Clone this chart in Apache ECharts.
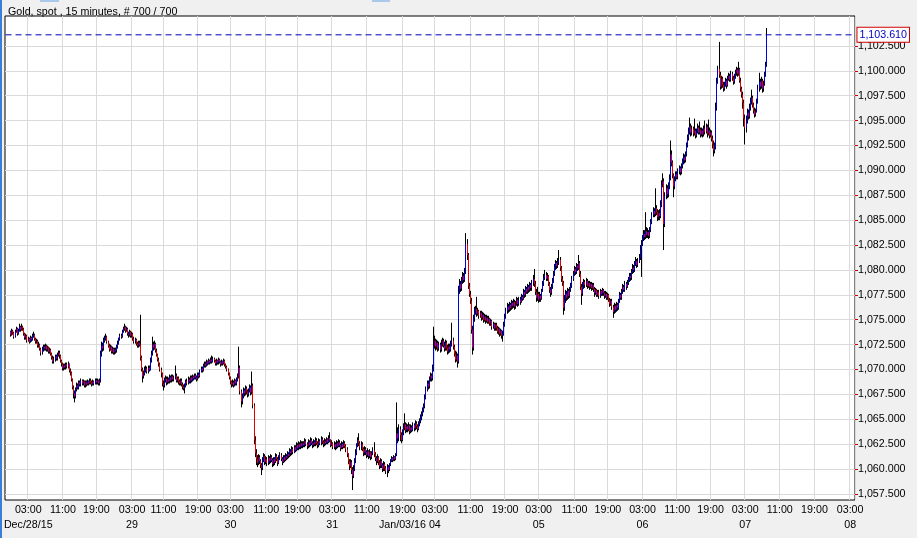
<!DOCTYPE html>
<html>
<head>
<meta charset="utf-8">
<title>Gold, spot, 15 minutes</title>
<script src="https://cdn.jsdelivr.net/npm/echarts@6/dist/echarts.min.js"></script>
<style>
html, body { margin: 0; padding: 0; background: #f0f0f0; }
#main { width: 917px; height: 538px; }
</style>
</head>
<body>
<div id="main"></div>
<script>
var chartTitle = 'Gold, spot , 15 minutes, # 700 / 700';

// 15 minute bars, open of each bar = close of the bar before
var firstOpen = 1073.8;
var closes = [
1073.5,1073.9,1073.7,1073.3,1073.8,1074.1,1073.6,1073.9,1074.3,1074.0,
1074.3,1074.1,1073.6,1073.2,1073.4,1072.9,1073.1,1072.8,1073.2,1073.0,
1073.4,1073.5,1073.1,1072.8,1072.9,1072.4,1072.5,1072.1,1071.7,1072.0,
1072.3,1072.1,1072.4,1072.0,1072.2,1071.8,1072.0,1071.6,1071.2,1070.8,
1071.0,1071.3,1071.1,1071.5,1071.7,1071.4,1070.9,1070.6,1070.1,1070.4,
1070.2,1070.5,1070.3,1070.6,1069.9,1069.7,1069.0,1068.2,1067.6,1067.3,
1068.0,1068.4,1068.2,1068.7,1068.5,1068.9,1068.6,1068.8,1068.4,1068.7,
1068.5,1068.8,1068.6,1068.9,1068.7,1068.5,1068.8,1068.6,1068.9,1068.7,
1068.9,1068.6,1068.9,1071.6,1072.4,1072.1,1072.9,1073.1,1073.3,1072.8,
1072.4,1072.0,1072.3,1071.8,1072.1,1071.7,1072.0,1071.9,1072.3,1072.6,
1073.0,1073.4,1073.3,1073.8,1074.1,1074.3,1073.9,1074.1,1073.6,1073.5,
1073.8,1073.4,1073.6,1073.1,1072.8,1073.0,1072.6,1072.4,1072.7,1072.5,
1071.2,1070.0,1069.3,1069.6,1069.9,1070.1,1069.8,1070.2,1070.0,1070.9,
1071.6,1072.5,1072.2,1072.6,1071.9,1071.5,1071.0,1070.6,1070.0,1069.6,
1068.6,1068.4,1068.9,1069.1,1068.7,1069.0,1068.8,1069.2,1068.9,1069.3,
1069.0,1069.2,1069.4,1068.9,1069.1,1068.8,1068.6,1068.9,1068.5,1068.3,
1068.1,1068.3,1068.8,1068.6,1069.0,1068.8,1069.2,1068.9,1069.3,1069.1,
1069.4,1069.2,1069.0,1069.5,1069.3,1069.8,1070.1,1069.9,1070.4,1070.6,
1070.4,1070.8,1070.6,1070.9,1070.7,1071.0,1070.8,1071.1,1070.9,1070.6,
1070.9,1070.7,1071.0,1070.8,1070.5,1070.8,1070.6,1070.9,1070.5,1070.3,
1070.0,1069.6,1069.2,1068.8,1068.5,1068.7,1068.4,1068.9,1068.6,1069.0,
1069.3,1070.2,1067.8,1066.8,1067.3,1067.9,1067.6,1068.1,1067.8,1067.5,
1067.9,1068.2,1067.7,1068.4,1066.4,1062.9,1061.6,1061.0,1060.6,1061.2,
1060.8,1060.4,1060.1,1060.9,1061.3,1060.7,1061.0,1060.6,1061.1,1060.8,
1061.2,1060.9,1060.5,1061.0,1060.7,1061.3,1061.0,1060.6,1061.1,1061.4,
1061.0,1060.7,1061.2,1060.9,1061.3,1061.1,1061.5,1061.3,1061.8,1061.6,
1062.0,1061.7,1062.2,1061.9,1062.4,1062.1,1062.5,1062.2,1062.6,1062.3,
1062.6,1062.4,1062.8,1062.5,1062.3,1062.7,1062.4,1062.9,1062.6,1062.4,
1062.7,1062.5,1062.9,1062.6,1062.4,1062.8,1062.6,1063.0,1062.7,1062.5,
1062.8,1062.6,1063.0,1062.7,1063.1,1062.9,1062.4,1062.6,1062.2,1062.5,
1062.2,1062.6,1062.3,1062.7,1062.4,1062.1,1062.5,1062.2,1062.6,1062.3,
1062.0,1061.5,1060.8,1060.3,1060.7,1059.9,1059.3,1060.0,1060.8,1061.6,
1062.4,1062.9,1062.6,1062.2,1062.5,1062.0,1061.6,1062.0,1061.7,1061.4,
1061.8,1061.3,1061.7,1061.2,1061.6,1061.9,1061.5,1061.1,1060.8,1061.2,
1060.7,1060.3,1060.8,1060.4,1060.0,1060.5,1060.1,1059.8,1060.2,1059.9,
1060.4,1060.8,1061.1,1060.9,1061.2,1061.0,1061.4,1063.6,1063.1,1064.0,
1063.4,1062.9,1063.6,1064.2,1064.5,1063.9,1064.3,1064.0,1064.4,1063.8,
1064.2,1063.9,1064.4,1064.1,1064.6,1064.3,1064.0,1064.5,1064.8,1065.2,
1065.5,1065.9,1066.3,1067.2,1068.0,1068.6,1068.3,1069.0,1069.4,1069.1,
1070.1,1072.4,1072.9,1072.3,1072.7,1072.1,1072.5,1072.0,1072.6,1072.9,
1072.4,1072.1,1072.7,1072.2,1071.8,1072.3,1072.0,1072.6,1072.9,1072.3,
1071.6,1071.0,1071.4,1070.8,1077.9,1078.6,1078.1,1078.9,1079.4,1079.0,
1079.8,1082.6,1081.5,1078.4,1077.6,1076.9,1074.0,1072.2,1075.1,1075.8,
1076.1,1075.6,1075.9,1075.4,1075.7,1075.2,1075.5,1075.0,1075.3,1074.9,
1075.2,1074.8,1075.1,1074.6,1074.9,1074.3,1074.6,1074.1,1074.5,1074.2,
1073.8,1074.1,1073.6,1073.9,1073.4,1073.6,1074.5,1075.3,1075.9,1076.3,
1076.0,1076.5,1076.2,1076.7,1076.4,1076.8,1076.3,1076.6,1077.0,1076.6,
1077.0,1076.8,1077.3,1077.1,1077.8,1077.5,1078.1,1077.8,1078.3,1078.0,
1078.5,1078.2,1078.7,1079.1,1078.6,1077.8,1077.2,1077.6,1077.0,1077.4,
1077.1,1077.9,1078.6,1079.2,1079.5,1079.1,1079.4,1078.6,1078.0,1077.7,
1078.3,1078.9,1079.6,1080.3,1080.7,1080.4,1080.8,1081.0,1080.2,1079.1,
1078.7,1076.2,1077.0,1077.6,1077.2,1077.9,1077.4,1078.0,1078.4,1079.1,
1079.6,1080.1,1079.8,1080.4,1080.2,1080.7,1079.6,1078.3,1077.6,1078.4,
1078.8,1078.5,1078.9,1078.4,1078.7,1078.3,1078.6,1078.2,1078.5,1078.1,
1077.7,1078.0,1077.5,1077.8,1077.4,1077.9,1077.6,1078.0,1077.7,1077.4,
1077.6,1077.2,1077.5,1077.0,1076.6,1076.9,1076.3,1075.8,1076.4,1076.0,
1076.5,1076.2,1076.9,1077.5,1077.2,1077.8,1078.3,1078.0,1078.6,1078.3,
1078.7,1079.0,1079.4,1079.2,1079.8,1080.2,1080.0,1080.6,1080.9,1080.5,
1080.9,1081.2,1082.1,1082.6,1083.2,1083.6,1083.3,1083.9,1083.5,1083.8,
1083.4,1084.0,1084.8,1085.5,1085.9,1085.6,1086.2,1085.8,1085.3,1085.7,
1085.4,1086.5,1088.6,1088.9,1084.6,1087.4,1088.2,1087.6,1088.4,1089.2,
1091.6,1090.8,1089.5,1088.4,1089.1,1089.6,1089.3,1089.9,1090.2,1089.8,
1090.4,1090.9,1091.3,1091.0,1091.6,1092.5,1093.3,1093.9,1094.4,1093.8,
1094.2,1093.7,1094.0,1093.5,1093.9,1094.3,1093.8,1094.1,1093.6,1094.0,
1093.6,1094.2,1093.9,1094.4,1093.7,1094.0,1093.5,1093.8,1093.2,1092.6,
1092.0,1092.4,1096.3,1098.9,1100.2,1099.6,1098.4,1099.2,1098.6,1098.2,
1098.6,1099.0,1098.5,1099.2,1099.5,1099.1,1099.7,1099.3,1098.9,1099.4,
1099.8,1100.1,1099.7,1100.2,1099.0,1098.2,1097.6,1096.8,1095.2,1094.3,
1095.0,1095.8,1095.4,1096.3,1096.9,1097.3,1096.6,1096.0,1095.6,1095.9,
1096.8,1098.2,1098.9,1098.4,1099.0,1098.2,1098.7,1099.6,1100.6,1103.61
];
var highs = [
1073.9,1074.1,1074.0,1073.8,1074.0,1074.3,1074.2,1074.1,1074.6,1074.4,
1074.6,1074.4,1074.2,1073.7,1073.6,1073.5,1073.3,1073.2,1073.4,1073.3,
1073.6,1073.8,1073.6,1073.2,1073.1,1073.0,1072.8,1072.6,1072.2,1072.3,
1072.5,1072.5,1072.6,1072.5,1072.4,1072.3,1072.2,1072.1,1071.7,1071.4,
1071.3,1071.5,1071.5,1071.7,1071.9,1071.9,1071.5,1071.0,1070.7,1070.6,
1070.6,1070.7,1070.7,1070.8,1070.6,1070.1,1069.8,1069.1,1068.4,1067.9,
1068.2,1068.7,1068.6,1068.9,1068.9,1069.1,1069.0,1069.0,1068.9,1068.9,
1068.9,1069.0,1068.9,1069.1,1069.1,1068.9,1069.0,1068.9,1069.1,1069.1,
1069.1,1069.0,1069.1,1071.9,1072.8,1072.7,1073.2,1073.4,1073.6,1073.4,
1072.9,1072.6,1072.5,1072.4,1072.3,1072.2,1072.2,1072.2,1072.5,1072.9,
1073.2,1073.6,1073.6,1074.0,1074.3,1074.6,1074.4,1074.3,1074.2,1073.8,
1074.0,1073.9,1073.8,1073.7,1073.3,1073.2,1073.1,1072.8,1072.9,1072.9,
1075.5,1071.4,1070.2,1069.9,1070.3,1070.4,1070.3,1070.4,1070.4,1071.2,
1071.9,1073.3,1072.8,1072.9,1072.7,1072.1,1071.6,1071.2,1070.7,1070.2,
1069.7,1068.9,1069.2,1069.4,1069.3,1069.3,1069.2,1069.5,1069.4,1069.5,
1069.5,1069.4,1070.4,1069.6,1069.3,1069.3,1069.0,1069.1,1069.1,1068.7,
1068.5,1068.6,1069.0,1069.1,1069.3,1069.2,1069.4,1069.4,1069.5,1069.4,
1069.6,1069.6,1069.4,1069.7,1069.7,1070.0,1070.3,1070.3,1070.6,1070.8,
1070.8,1071.0,1070.9,1071.1,1071.0,1071.2,1071.4,1071.3,1071.2,1071.0,
1071.1,1071.0,1071.2,1071.1,1070.9,1071.0,1070.9,1071.1,1071.0,1070.6,
1070.4,1070.1,1069.7,1069.3,1068.9,1069.0,1068.9,1069.1,1069.0,1069.2,
1069.6,1072.3,1070.4,1068.0,1067.6,1068.2,1068.1,1068.4,1068.3,1068.0,
1068.1,1068.5,1068.4,1069.8,1068.6,1066.6,1063.3,1062.0,1061.4,1061.5,
1061.4,1061.0,1060.6,1061.2,1061.6,1061.5,1061.3,1061.2,1061.4,1061.3,
1061.5,1061.4,1061.1,1061.2,1061.2,1061.6,1061.5,1061.2,1061.4,1061.7,
1061.6,1061.2,1061.4,1061.4,1061.6,1061.5,1061.8,1061.7,1062.1,1062.0,
1062.3,1062.2,1062.4,1062.4,1062.7,1062.6,1062.8,1062.7,1062.9,1062.8,
1062.8,1062.8,1063.1,1063.0,1062.7,1063.0,1062.9,1063.2,1063.1,1062.8,
1063.0,1062.9,1063.2,1063.1,1062.8,1063.1,1063.0,1063.3,1063.2,1062.9,
1063.1,1063.0,1063.2,1063.1,1063.4,1063.7,1063.0,1062.9,1062.7,1062.8,
1062.7,1062.9,1062.8,1063.0,1062.9,1062.6,1062.8,1062.7,1062.9,1062.8,
1062.5,1062.2,1061.6,1061.0,1061.0,1060.9,1060.2,1060.4,1061.1,1062.0,
1062.6,1063.2,1063.6,1062.8,1062.8,1062.7,1062.2,1062.3,1062.2,1061.9,
1062.1,1061.9,1062.0,1061.8,1061.8,1062.2,1062.7,1061.7,1061.3,1061.5,
1061.3,1060.9,1061.1,1061.0,1060.6,1060.8,1060.7,1060.3,1060.5,1060.4,
1060.6,1061.0,1061.3,1061.2,1061.4,1061.3,1061.6,1066.7,1064.2,1064.5,
1064.3,1063.7,1064.0,1064.6,1065.6,1064.7,1064.6,1064.5,1064.7,1064.5,
1064.5,1064.4,1064.7,1064.6,1064.9,1064.8,1064.5,1064.8,1065.1,1065.5,
1065.8,1066.2,1066.6,1067.5,1068.3,1068.9,1068.9,1069.3,1069.7,1069.6,
1070.5,1074.3,1073.4,1073.1,1073.0,1072.9,1072.8,1072.7,1073.0,1073.2,
1073.1,1072.8,1073.0,1072.9,1072.5,1072.6,1072.6,1072.9,1074.7,1073.2,
1072.5,1071.9,1071.8,1071.6,1078.4,1079.1,1078.9,1079.3,1079.8,1079.7,
1080.2,1083.7,1083.1,1081.7,1078.7,1077.9,1077.2,1074.4,1075.5,1076.3,
1076.4,1077.3,1076.2,1076.0,1075.9,1075.9,1075.8,1075.7,1075.6,1075.5,
1075.5,1075.4,1075.4,1075.2,1075.1,1075.0,1074.8,1074.7,1074.7,1074.7,
1074.4,1074.3,1074.2,1074.1,1074.0,1073.9,1074.8,1075.6,1076.2,1076.7,
1076.6,1076.8,1076.7,1077.0,1076.9,1077.1,1077.0,1076.9,1077.3,1077.2,
1077.3,1077.3,1077.6,1077.5,1078.1,1078.0,1078.4,1078.3,1078.6,1078.5,
1078.8,1078.7,1079.0,1079.5,1080.1,1078.9,1078.1,1078.3,1077.8,1077.8,
1077.6,1078.1,1078.9,1079.6,1080.0,1079.8,1079.7,1079.5,1078.8,1078.3,
1078.6,1079.2,1079.9,1080.6,1081.0,1080.9,1081.2,1082.0,1081.3,1080.4,
1079.4,1078.9,1077.5,1078.0,1077.9,1078.2,1078.1,1078.3,1078.7,1079.4,
1079.9,1080.4,1080.3,1080.7,1080.6,1081.5,1080.9,1079.9,1078.6,1078.8,
1079.1,1079.0,1079.2,1079.1,1078.9,1078.9,1078.8,1078.8,1078.7,1078.7,
1078.3,1078.2,1078.1,1078.0,1078.0,1078.1,1078.0,1078.2,1078.1,1077.9,
1077.9,1077.8,1077.7,1077.6,1077.2,1077.1,1077.1,1076.5,1076.7,1076.6,
1076.8,1076.7,1077.1,1077.8,1077.7,1078.1,1078.6,1078.5,1078.9,1078.8,
1079.0,1079.3,1079.7,1079.7,1080.1,1080.6,1080.5,1080.9,1081.3,1081.1,
1081.2,1081.6,1082.5,1083.0,1083.5,1084.0,1084.0,1085.8,1084.3,1084.2,
1084.0,1084.3,1085.1,1085.8,1086.3,1086.2,1088.2,1086.5,1086.1,1086.0,
1086.1,1087.0,1089.0,1089.7,1089.2,1087.8,1088.6,1088.5,1088.8,1089.6,
1093.0,1092.0,1091.0,1089.7,1089.4,1089.9,1089.9,1090.2,1090.5,1090.4,
1090.7,1091.2,1091.7,1091.6,1091.9,1092.8,1093.6,1094.3,1095.3,1094.7,
1094.5,1094.4,1095.2,1094.2,1094.2,1094.7,1094.5,1094.9,1094.3,1094.3,
1094.2,1094.5,1095.0,1094.7,1094.6,1095.1,1094.3,1094.1,1094.0,1093.5,
1093.0,1092.8,1096.8,1099.3,1100.5,1102.9,1099.9,1099.5,1099.4,1098.9,
1098.9,1099.3,1099.2,1099.5,1099.8,1099.7,1100.0,1099.9,1099.5,1099.7,
1100.1,1100.4,1100.3,1100.9,1100.3,1099.3,1098.4,1097.9,1097.1,1095.6,
1095.5,1096.2,1096.1,1096.7,1097.3,1098.1,1097.5,1096.8,1096.3,1096.2,
1097.2,1098.6,1099.8,1099.2,1099.4,1099.2,1099.0,1099.9,1100.9,1104.3
];
var lows = [
1073.3,1073.4,1073.5,1073.1,1073.2,1073.7,1073.4,1073.5,1073.8,1073.8,
1073.9,1073.9,1073.4,1073.0,1073.0,1072.7,1072.8,1072.6,1072.7,1072.8,
1072.9,1073.2,1072.9,1072.6,1072.6,1072.2,1072.2,1071.9,1071.4,1071.5,
1071.8,1071.9,1071.9,1071.8,1071.8,1071.6,1071.6,1071.4,1071.0,1070.6,
1070.6,1070.8,1070.9,1070.9,1071.3,1071.1,1070.7,1070.3,1069.9,1069.9,
1070.0,1070.0,1070.1,1070.1,1069.7,1069.4,1068.8,1068.0,1067.1,1066.7,
1067.1,1067.8,1068.0,1068.0,1068.3,1068.3,1068.4,1068.4,1068.2,1068.2,
1068.3,1068.4,1068.4,1068.5,1068.5,1068.3,1068.4,1068.4,1068.5,1068.5,
1068.5,1068.4,1068.4,1068.7,1071.3,1071.8,1071.9,1072.7,1072.9,1072.6,
1072.2,1071.8,1071.9,1071.6,1071.6,1071.5,1071.5,1071.6,1071.7,1072.1,
1072.5,1072.9,1073.1,1073.2,1073.7,1073.9,1073.7,1073.8,1073.4,1073.2,
1073.3,1073.2,1073.2,1072.9,1072.6,1072.6,1072.4,1072.2,1072.2,1072.3,
1070.9,1069.8,1068.7,1069.1,1069.4,1069.7,1069.6,1069.6,1069.8,1069.9,
1070.7,1071.4,1071.9,1072.0,1071.7,1071.3,1070.8,1070.3,1069.8,1069.2,
1068.3,1067.9,1068.2,1068.7,1068.4,1068.5,1068.6,1068.6,1068.7,1068.7,
1068.8,1068.8,1069.0,1068.7,1068.7,1068.5,1068.4,1068.4,1068.3,1068.0,
1067.9,1067.6,1068.2,1068.4,1068.5,1068.6,1068.6,1068.7,1068.8,1068.9,
1069.0,1069.0,1068.8,1068.9,1069.1,1069.2,1069.7,1069.7,1069.8,1070.2,
1070.2,1070.3,1070.4,1070.5,1070.5,1070.6,1070.6,1070.7,1070.7,1070.4,
1070.4,1070.5,1070.5,1070.6,1070.3,1070.4,1070.4,1070.5,1070.3,1070.1,
1069.8,1069.4,1069.0,1068.5,1068.2,1068.3,1068.2,1068.3,1068.4,1068.4,
1068.8,1069.1,1067.5,1066.2,1066.5,1067.1,1067.3,1067.4,1067.5,1067.2,
1067.3,1067.7,1067.4,1067.5,1066.1,1062.5,1061.2,1060.4,1060.2,1060.4,
1060.5,1060.1,1059.4,1059.9,1060.7,1060.4,1060.5,1060.3,1060.4,1060.5,
1060.6,1060.7,1060.2,1060.3,1060.4,1060.6,1060.8,1060.3,1060.5,1060.9,
1060.8,1060.4,1060.6,1060.7,1060.8,1060.9,1061.0,1061.1,1061.2,1061.3,
1061.4,1061.5,1061.6,1061.7,1061.8,1061.9,1061.9,1062.0,1062.0,1062.1,
1062.1,1062.2,1062.2,1062.3,1062.0,1062.1,1062.2,1062.3,1062.4,1062.1,
1062.2,1062.3,1062.3,1062.4,1062.1,1062.2,1062.4,1062.4,1062.5,1062.2,
1062.3,1062.4,1062.5,1062.5,1062.6,1062.7,1062.2,1062.3,1062.0,1062.0,
1061.9,1062.0,1062.1,1062.2,1062.2,1061.8,1062.0,1062.0,1062.1,1062.1,
1061.7,1061.2,1060.5,1059.9,1060.1,1059.5,1057.9,1059.1,1059.8,1060.6,
1061.4,1062.2,1062.3,1061.9,1061.9,1061.8,1061.3,1061.4,1061.4,1061.1,
1061.2,1061.0,1061.1,1060.9,1061.0,1061.4,1061.2,1060.8,1060.4,1060.6,
1060.4,1060.0,1060.1,1060.1,1059.7,1059.8,1059.8,1059.5,1059.2,1059.6,
1059.8,1060.3,1060.7,1060.7,1060.8,1060.8,1060.9,1061.3,1062.6,1062.8,
1062.8,1062.6,1062.8,1063.4,1063.9,1063.6,1063.7,1063.7,1063.8,1063.5,
1063.6,1063.7,1063.8,1063.8,1063.9,1064.0,1063.7,1063.9,1064.3,1064.6,
1064.9,1065.3,1065.7,1066.1,1067.0,1067.8,1068.0,1068.1,1068.8,1068.8,
1068.9,1069.8,1072.1,1071.9,1072.0,1071.8,1071.9,1071.7,1071.8,1072.3,
1072.2,1071.8,1071.9,1071.9,1071.5,1071.6,1071.7,1071.8,1072.3,1072.0,
1071.3,1070.7,1070.8,1070.2,1070.6,1077.6,1077.8,1077.9,1078.6,1078.7,
1078.8,1079.6,1081.0,1078.1,1077.3,1076.6,1073.6,1071.5,1071.9,1074.8,
1075.5,1075.3,1075.4,1075.1,1075.2,1074.9,1075.0,1074.7,1074.8,1074.6,
1074.7,1074.6,1074.6,1074.4,1074.4,1074.0,1074.1,1073.9,1073.9,1073.9,
1073.6,1073.5,1073.3,1073.4,1073.1,1072.8,1073.4,1074.3,1075.1,1075.6,
1075.7,1075.8,1075.9,1076.0,1076.1,1076.2,1076.0,1076.1,1076.4,1076.3,
1076.4,1076.5,1076.7,1076.9,1077.0,1077.2,1077.3,1077.6,1077.6,1077.7,
1077.8,1077.9,1077.9,1078.4,1078.3,1077.5,1076.8,1076.9,1076.7,1076.8,
1076.8,1077.0,1077.8,1078.4,1079.0,1078.9,1078.9,1078.4,1077.7,1077.3,
1077.5,1078.1,1078.7,1079.4,1080.0,1080.1,1080.2,1080.5,1079.9,1078.8,
1078.4,1075.5,1075.9,1076.7,1076.9,1077.0,1077.1,1077.2,1077.8,1078.2,
1078.9,1079.4,1079.5,1079.6,1079.9,1080.0,1079.3,1078.0,1076.5,1077.4,
1078.1,1078.2,1078.3,1078.1,1078.2,1078.0,1078.1,1077.9,1078.0,1077.8,
1077.3,1077.5,1077.3,1077.3,1077.1,1077.2,1077.4,1077.4,1077.4,1077.1,
1077.2,1077.0,1077.0,1076.8,1076.3,1076.4,1076.0,1075.2,1075.6,1075.7,
1075.8,1075.9,1076.0,1076.7,1077.0,1077.0,1077.6,1077.8,1077.8,1078.0,
1078.2,1078.5,1078.8,1078.9,1079.0,1079.6,1079.7,1079.8,1080.4,1080.2,
1080.3,1080.7,1081.0,1079.3,1082.4,1082.9,1083.0,1083.1,1083.2,1083.2,
1083.1,1083.2,1083.8,1084.6,1085.3,1085.3,1085.4,1085.5,1084.9,1085.0,
1085.0,1085.2,1086.3,1088.3,1082.0,1084.3,1087.1,1087.2,1087.3,1088.1,
1089.0,1090.4,1089.2,1087.3,1088.1,1088.9,1089.1,1089.1,1089.6,1089.5,
1089.6,1090.2,1090.6,1090.7,1090.8,1091.4,1092.3,1093.0,1093.6,1093.4,
1093.5,1093.4,1093.5,1093.2,1093.3,1093.7,1093.6,1093.6,1093.3,1093.4,
1093.3,1093.4,1093.6,1093.7,1093.3,1093.5,1093.2,1093.3,1092.9,1092.2,
1091.4,1091.7,1092.1,1096.0,1098.7,1099.3,1098.1,1098.2,1098.3,1097.9,
1098.0,1098.4,1098.2,1098.4,1099.0,1098.9,1098.9,1099.0,1098.6,1098.7,
1099.2,1099.5,1099.4,1099.5,1098.8,1097.9,1097.3,1096.2,1094.4,1092.6,
1093.8,1094.7,1095.1,1095.2,1096.0,1096.6,1096.3,1095.7,1095.3,1095.4,
1095.8,1096.7,1097.9,1098.1,1098.2,1097.8,1097.9,1098.5,1099.4,1100.4
];

// bar number (from first bar) where each time label sits
var tickBars = [16, 48, 79, 112, 141, 173, 203, 236, 265, 297, 329, 362, 392,
                425, 457, 488, 521, 552, 584, 616, 647, 679, 711, 743, 776];
var tickTimes = ['03:00','11:00','19:00','03:00','11:00','19:00','03:00','11:00','19:00',
                 '03:00','11:00','19:00','03:00','11:00','19:00','03:00','11:00','19:00',
                 '03:00','11:00','19:00','03:00','11:00','19:00','03:00'];
var tickDates = ['Dec/28/15','','','29','','','30','','','31','','Jan/03/16','04',
                 '','','05','','','06','','','07','','','08'];
var yTicks = [1057.5, 1060, 1062.5, 1065, 1067.5, 1070, 1072.5, 1075, 1077.5, 1080,
              1082.5, 1085, 1087.5, 1090, 1092.5, 1095, 1097.5, 1100, 1102.5];
var lastPrice = 1103.61;

var leadSlots = 5;     // empty slots before the first bar
var totalSlots = 786;  // axis keeps room for future bars on the right

function fmt(v) {
    var p = v.toFixed(3).split('.');
    return p[0].replace(/\B(?=(\d{3})+(?!\d))/g, ',') + '.' + p[1];
}

var slots = [];
for (var k = 0; k < totalSlots; k++) slots.push(String(k - leadSlots));

var tickAt = {};
tickBars.forEach(function (b, j) {
    tickAt[b + leadSlots] = { t: tickTimes[j], d: tickDates[j] };
});
function isTick(index) { return tickAt[index] !== undefined; }
function isDate(index) { return isTick(index) && tickAt[index].d !== ''; }

var wickRows = [], bodyRows = [];
for (var i = 0; i < closes.length; i++) {
    var o = i === 0 ? firstOpen : closes[i - 1];
    var c = closes[i];
    wickRows.push([i + leadSlots, o, c, Math.min(lows[i], o, c), Math.max(highs[i], o, c)]);
    bodyRows.push([i + leadSlots, o, c, Math.min(o, c), Math.max(o, c)]);
}

var font = 'Liberation Sans, Arial, sans-serif';
var chart = echarts.init(document.getElementById('main'));

chart.setOption({
    animation: false,
    backgroundColor: '#f0f0f0',
    textStyle: { fontFamily: font },
    title: {
        text: chartTitle,
        left: 3,
        top: 2,
        textStyle: { fontSize: 10.7, fontWeight: 'normal', color: '#000', fontFamily: font }
    },
    graphic: [
        { type: 'rect', left: 0, top: 0, shape: { width: 2, height: 538 }, style: { fill: '#3b7dd8' } },
        { type: 'rect', left: 40, top: 0, shape: { width: 19, height: 2 }, style: { fill: '#a9c8ea' } },
        { type: 'rect', left: 372, top: 0, shape: { width: 18, height: 2 }, style: { fill: '#a9c8ea' } }
    ],
    grid: {
        show: true,
        left: 5,
        top: 16,
        right: 62,
        bottom: 38,
        backgroundColor: '#fff',
        borderColor: '#000',
        borderWidth: 1
    },
    xAxis: [{
        // time row
        type: 'category',
        data: slots,
        boundaryGap: true,
        axisLine: { show: false },
        axisTick: {
            alignWithLabel: true,
            interval: isTick,
            length: 3,
            lineStyle: { color: '#d00000' }
        },
        axisLabel: {
            interval: isTick,
            showMinLabel: true,
            showMaxLabel: true,
            margin: 5,
            fontSize: 10.7,
            color: '#000',
            formatter: function (v, index) {
                return isTick(index) ? tickAt[index].t : '';
            }
        },
        splitLine: {
            show: true,
            interval: isTick,
            lineStyle: { color: '#dadada', width: 1 }
        }
    }, {
        // date row
        type: 'category',
        data: slots,
        position: 'bottom',
        offset: 15,
        boundaryGap: true,
        axisLine: { show: false },
        axisTick: { show: false },
        splitLine: { show: false },
        axisLabel: {
            interval: isDate,
            showMinLabel: true,
            showMaxLabel: true,
            margin: 5,
            fontSize: 10.7,
            color: '#000',
            formatter: function (v, index) {
                return isDate(index) ? tickAt[index].d : '';
            }
        }
    }],
    yAxis: {
        type: 'value',
        position: 'right',
        min: 1056.9,
        max: 1105.5,
        scale: true,
        axisLine: { show: false },
        axisTick: {
            show: true,
            customValues: yTicks,
            length: 3,
            lineStyle: { color: '#d00000' }
        },
        axisLabel: {
            customValues: yTicks,
            margin: 3,
            fontSize: 10.7,
            color: '#000',
            formatter: fmt
        },
        splitLine: { show: true, lineStyle: { color: '#dadada', width: 1 } }
    },
    series: [{
        name: 'wick',
        type: 'candlestick',
        large: false,
        barWidth: 1,
        data: wickRows,
        encode: { x: 0, y: [1, 2, 3, 4] },
        itemStyle: {
            color: '#000', color0: '#000',
            borderColor: '#000', borderColor0: '#000', borderColorDoji: '#000',
            borderWidth: 1
        },
        emphasis: { disabled: true }
    }, {
        name: 'Gold',
        type: 'candlestick',
        large: false,
        barWidth: 1,
        data: bodyRows,
        encode: { x: 0, y: [1, 2, 3, 4] },
        itemStyle: {
            color: '#0000e0', color0: '#e00000',
            borderColor: '#0000e0', borderColor0: '#e00000', borderColorDoji: '#0000e0',
            borderWidth: 1
        },
        emphasis: { disabled: true }
    }, {
        // last price, dashed across the whole plot with its value box at the right
        name: 'last',
        type: 'line',
        silent: true,
        symbol: 'none',
        color: '#0000b4',
        data: [[0, lastPrice], [totalSlots - 1, lastPrice]],
        lineStyle: { color: '#0000b4', type: [6, 4], width: 1 },
        emphasis: { disabled: true },
        endLabel: {
            show: true,
            distance: 3,
            formatter: function () { return fmt(lastPrice); },
            color: '#0000c0',
            fontSize: 10.7,
            backgroundColor: '#fff',
            borderColor: '#d00000',
            borderWidth: 1,
            padding: [2, 2, 1, 2]
        }
    }]
});
</script>
</body>
</html>
